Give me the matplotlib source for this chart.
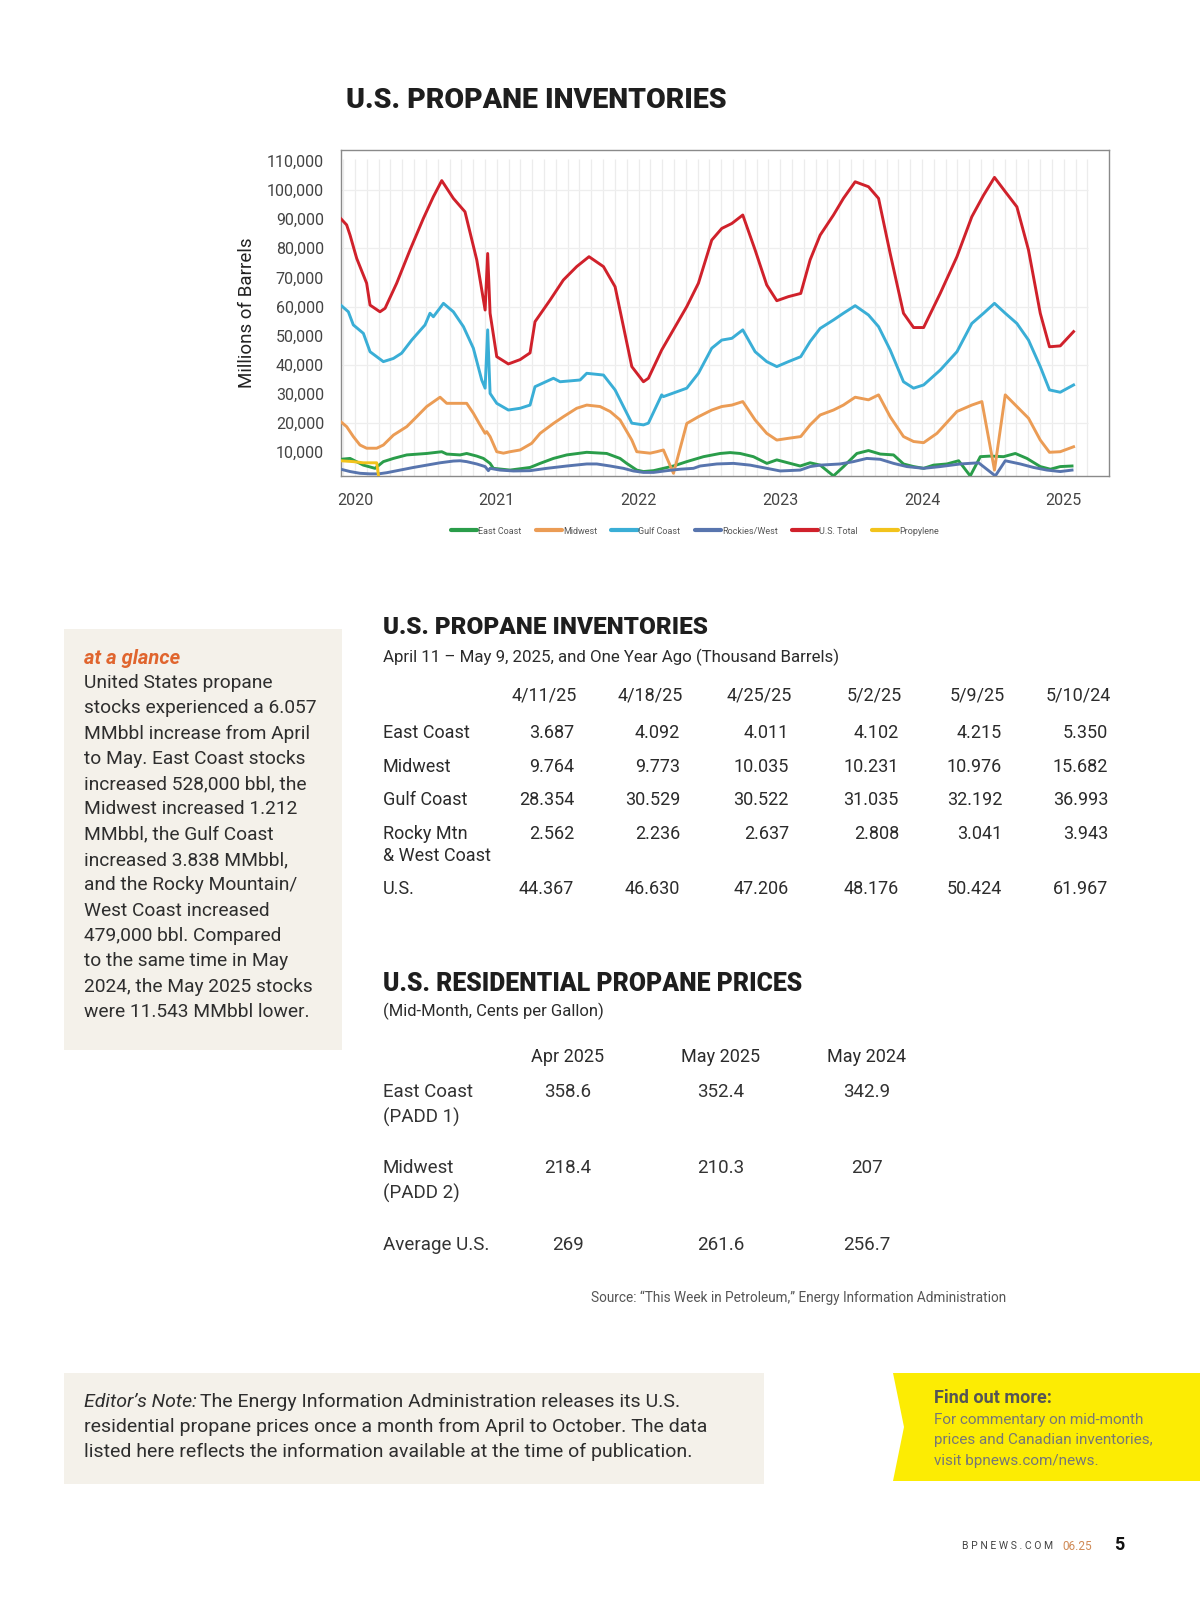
import numpy as np
import matplotlib
matplotlib.use("Agg")
import matplotlib.pyplot as plt
from matplotlib.patches import Rectangle, Polygon
from matplotlib.lines import Line2D

plt.rcParams['font.family'] = ['Roboto', 'DejaVu Sans']

# ---- chart data (decimal year, thousand-barrel units as on the axis) ----
east_coast = [(2019.899, 7600), (2019.965, 7900), (2020.059, 5600), (2020.141, 4500), (2020.200, 6800),
              (2020.271, 7900), (2020.365, 9100), (2020.506, 9600), (2020.612, 10200), (2020.647, 9400),
              (2020.741, 9100), (2020.788, 9600), (2020.859, 8700), (2020.906, 7900), (2020.953, 6200),
              (2020.976, 4500), (2021.094, 3900), (2021.235, 4800), (2021.306, 6200), (2021.400, 7900),
              (2021.494, 9100), (2021.635, 10000), (2021.776, 9600), (2021.870, 7900), (2021.917, 6200),
              (2021.988, 3900), (2022.035, 3400), (2022.106, 3700), (2022.247, 5300), (2022.341, 6800),
              (2022.459, 8500), (2022.576, 9600), (2022.647, 9900), (2022.717, 9600), (2022.811, 8500),
              (2022.906, 6200), (2022.976, 7400), (2023.070, 6200), (2023.141, 5300), (2023.211, 6400),
              (2023.282, 5600), (2023.376, 1900), (2023.447, 5100), (2023.541, 9600), (2023.623, 10600),
              (2023.706, 9400), (2023.800, 9100), (2023.870, 6000), (2023.941, 5100), (2024.012, 4500),
              (2024.082, 5600), (2024.176, 6000), (2024.259, 7100), (2024.341, 1900), (2024.412, 8500),
              (2024.482, 8700), (2024.576, 8500), (2024.659, 9600), (2024.741, 7900), (2024.835, 5100),
              (2024.906, 4200), (2024.976, 5100), (2025.059, 5300)]

midwest = [(2019.899, 20500), (2019.941, 18800), (2019.988, 15400), (2020.035, 12500), (2020.082, 11400),
           (2020.153, 11400), (2020.200, 12500), (2020.271, 15900), (2020.365, 18800), (2020.435, 22200),
           (2020.506, 25700), (2020.600, 28900), (2020.647, 26800), (2020.788, 26800), (2020.835, 23400),
           (2020.882, 19400), (2020.918, 16500), (2020.929, 17100), (2020.953, 15400), (2021.000, 10200),
           (2021.047, 9700), (2021.094, 10200), (2021.165, 10800), (2021.247, 13100), (2021.306, 16500),
           (2021.400, 19900), (2021.470, 22200), (2021.564, 25100), (2021.635, 26200), (2021.729, 25700),
           (2021.800, 24000), (2021.870, 21100), (2021.953, 14200), (2021.988, 10200), (2022.082, 9700),
           (2022.129, 10200), (2022.176, 10800), (2022.247, 2800), (2022.341, 19900), (2022.423, 22200),
           (2022.517, 24500), (2022.588, 25700), (2022.659, 26200), (2022.736, 27400), (2022.823, 21100),
           (2022.905, 16500), (2022.976, 14200), (2023.058, 14800), (2023.145, 15400), (2023.211, 19400),
           (2023.282, 22800), (2023.376, 24500), (2023.446, 26200), (2023.529, 28900), (2023.623, 28000),
           (2023.694, 29700), (2023.776, 22200), (2023.870, 15400), (2023.941, 13700), (2024.012, 13300),
           (2024.106, 16500), (2024.247, 24000), (2024.352, 26200), (2024.423, 27400), (2024.512, 3900),
           (2024.588, 29700), (2024.670, 25700), (2024.752, 21700), (2024.835, 14200), (2024.900, 10000),
           (2024.976, 10200), (2025.070, 11900)]

gulf_coast = [(2019.899, 60500), (2019.953, 58200), (2019.988, 53700), (2020.059, 50800), (2020.106, 44500),
              (2020.200, 41100), (2020.271, 42200), (2020.329, 44000), (2020.400, 48500), (2020.494, 53700),
              (2020.529, 57700), (2020.553, 56500), (2020.624, 61100), (2020.694, 58200), (2020.765, 53100),
              (2020.835, 45700), (2020.894, 34800), (2020.918, 32000), (2020.936, 52000), (2020.953, 30200),
              (2021.000, 26800), (2021.082, 24500), (2021.165, 25100), (2021.235, 26200), (2021.270, 32500),
              (2021.400, 35400), (2021.447, 34200), (2021.588, 34800), (2021.635, 37100), (2021.753, 36500),
              (2021.835, 31400), (2021.953, 20000), (2022.035, 19400), (2022.070, 20000), (2022.164, 29700),
              (2022.176, 29100), (2022.341, 32000), (2022.423, 37100), (2022.517, 45700), (2022.588, 48500),
              (2022.659, 49100), (2022.736, 52000), (2022.823, 44500), (2022.905, 41100), (2022.976, 39400),
              (2023.058, 41100), (2023.145, 42800), (2023.211, 48000), (2023.282, 52500), (2023.376, 55400),
              (2023.446, 57700), (2023.529, 60300), (2023.623, 57100), (2023.694, 53100), (2023.776, 45100),
              (2023.870, 34200), (2023.941, 32000), (2024.012, 33100), (2024.129, 38200), (2024.247, 44500),
              (2024.352, 54200), (2024.435, 57700), (2024.512, 61100), (2024.588, 57700), (2024.670, 54200),
              (2024.752, 48500), (2024.835, 39400), (2024.900, 31400), (2024.976, 30600), (2025.070, 33100)]

rockies_west = [(2019.899, 4200), (2019.965, 3400), (2020.035, 2800), (2020.106, 2600), (2020.165, 2600),
                (2020.224, 3000), (2020.318, 3900), (2020.412, 4800), (2020.506, 5600), (2020.600, 6400),
                (2020.694, 7000), (2020.741, 7100), (2020.788, 6800), (2020.859, 6000), (2020.918, 5100),
                (2020.941, 3700), (2020.953, 4500), (2021.023, 3900), (2021.117, 3600), (2021.235, 3700),
                (2021.353, 4500), (2021.494, 5300), (2021.635, 6000), (2021.706, 6000), (2021.800, 5300),
                (2021.894, 4500), (2021.964, 3600), (2022.035, 3100), (2022.106, 3100), (2022.200, 3700),
                (2022.294, 4200), (2022.388, 4500), (2022.435, 5300), (2022.553, 6000), (2022.670, 6200),
                (2022.788, 5600), (2022.906, 4500), (2023.000, 3600), (2023.141, 3900), (2023.211, 5100),
                (2023.282, 5600), (2023.423, 6000), (2023.517, 6800), (2023.611, 7900), (2023.706, 7600),
                (2023.800, 6200), (2023.894, 5100), (2024.012, 4500), (2024.129, 5100), (2024.271, 6000),
                (2024.400, 6400), (2024.518, 1900), (2024.588, 7100), (2024.694, 6000), (2024.788, 4800),
                (2024.882, 3900), (2024.976, 3400), (2025.059, 3900)]

us_total = [(2019.899, 90200), (2019.941, 88000), (2019.965, 84500), (2020.012, 76500), (2020.082, 68000),
            (2020.106, 60500), (2020.176, 58200), (2020.212, 59400), (2020.294, 68000), (2020.388, 79400),
            (2020.482, 90200), (2020.553, 97700), (2020.612, 103200), (2020.694, 97100), (2020.776, 92500),
            (2020.859, 76000), (2020.918, 58800), (2020.936, 78200), (2020.953, 57700), (2021.000, 42800),
            (2021.082, 40300), (2021.165, 41800), (2021.235, 44100), (2021.270, 54800), (2021.376, 62200),
            (2021.470, 69100), (2021.564, 73700), (2021.651, 77100), (2021.753, 73700), (2021.835, 66800),
            (2021.953, 39400), (2022.035, 34200), (2022.070, 35400), (2022.164, 45100), (2022.341, 60000),
            (2022.423, 68000), (2022.517, 82800), (2022.588, 86800), (2022.659, 88500), (2022.736, 91400),
            (2022.823, 79400), (2022.905, 67400), (2022.976, 62000), (2023.058, 63400), (2023.145, 64500),
            (2023.211, 76000), (2023.282, 84500), (2023.376, 91400), (2023.446, 97100), (2023.529, 102800),
            (2023.623, 101100), (2023.694, 97100), (2023.776, 78200), (2023.870, 57700), (2023.941, 52800),
            (2024.012, 52800), (2024.129, 64500), (2024.247, 77100), (2024.352, 90800), (2024.435, 98200),
            (2024.512, 104300), (2024.588, 99400), (2024.670, 94200), (2024.752, 79400), (2024.835, 57700),
            (2024.900, 46200), (2024.976, 46500), (2025.070, 51400)]

propylene = [(2019.899, 7100), (2019.988, 6800), (2020.059, 6400), (2020.153, 6400), (2020.165, 2200)]

series_names = ["East Coast", "Midwest", "Gulf Coast", "Rockies/West", "U.S. Total", "Propylene"]
series_data = [east_coast, midwest, gulf_coast, rockies_west, us_total, propylene]
series_colors = ["#2a9d4a", "#eb9c55", "#3aaed6", "#5875ae", "#d0212b", "#f2c31c"]

year_ticks = [2020, 2021, 2022, 2023, 2024, 2025]
value_ticks = [10000, 20000, 30000, 40000, 50000, 60000, 70000, 80000, 90000, 100000, 110000]

# ---- table data ----
inv_title = "U.S. PROPANE INVENTORIES"
inv_subtitle = "April 11 \u2013 May 9, 2025, and One Year Ago (Thousand Barrels)"
inv_dates = ["4/11/25", "4/18/25", "4/25/25", "5/2/25", "5/9/25", "5/10/24"]
inv_rows = ["East Coast", "Midwest", "Gulf Coast", "Rocky Mtn\n& West Coast", "U.S."]
inv_east = ["3.687", "4.092", "4.011", "4.102", "4.215", "5.350"]
inv_midwest = ["9.764", "9.773", "10.035", "10.231", "10.976", "15.682"]
inv_gulf = ["28.354", "30.529", "30.522", "31.035", "32.192", "36.993"]
inv_rocky = ["2.562", "2.236", "2.637", "2.808", "3.041", "3.943"]
inv_us = ["44.367", "46.630", "47.206", "48.176", "50.424", "61.967"]

price_title = "U.S. RESIDENTIAL PROPANE PRICES"
price_subtitle = "(Mid-Month, Cents per Gallon)"
price_months = ["Apr 2025", "May 2025", "May 2024"]
price_rows = ["East Coast\n(PADD 1)", "Midwest\n(PADD 2)", "Average U.S."]
price_east = ["358.6", "352.4", "342.9"]
price_midwest = ["218.4", "210.3", "207"]
price_avg = ["269", "261.6", "256.7"]

glance_lines = ["United States propane", "stocks experienced a 6.057", "MMbbl increase from April",
                "to May. East Coast stocks", "increased 528,000 bbl, the", "Midwest increased 1.212",
                "MMbbl, the Gulf Coast", "increased 3.838 MMbbl,", "and the Rocky Mountain/",
                "West Coast increased", "479,000 bbl. Compared", "to the same time in May",
                "2024, the May 2025 stocks", "were 11.543 MMbbl lower."]

W, H = 1200, 1598
fig = plt.figure(figsize=(W / 100, H / 100), dpi=100)
fig.patch.set_facecolor("white")


def fx(x):
    return x / W


def fy(y):
    return 1 - y / H


def txt(x, y, s, **kw):
    kw.setdefault("va", "center")
    kw.setdefault("color", "#2b2b2b")
    return fig.text(fx(x), fy(y), s, **kw)


# ---- main chart ----
fig.text(fx(346), fy(101), "U.S. PROPANE INVENTORIES", fontsize=20.5, fontweight="black",
         color="#1e1e1e", va="center", ha="left")

left, right, top, bottom = 340.7, 1109, 150, 476
ax = fig.add_axes([fx(left), fy(bottom), (right - left) / W, (bottom - top) / H])
xmin, xmax = 2019.899, 2025.32
ax.set_xlim(xmin, xmax)
ax.set_ylim(1870, 113700)

# light grid, monthly verticals, every 20k horizontals
grid_end = 2025.17
months = np.arange(2019.917, grid_end, 1 / 12)
ax.vlines(months, 1870, 110500, color="#ececec", lw=0.9, zorder=0)
ax.hlines([20000, 40000, 60000, 80000, 100000], xmin, grid_end, color="#eeeeee", lw=0.9, zorder=0)

for name, data, col in zip(series_names, series_data, series_colors):
    xs = [p[0] for p in data]
    ys = [p[1] for p in data]
    ax.plot(xs, ys, color=col, lw=2.1, solid_joinstyle="round", label=name, zorder=3)

ax.set_xticks(year_ticks)
ax.set_xticklabels([str(y) for y in year_ticks])
ax.set_yticks(value_ticks)
ax.set_yticklabels([f"{v:,}" for v in value_ticks])
ax.tick_params(length=0, labelsize=11.5, labelcolor="#444444")
ax.tick_params(axis="x", pad=12)
ax.tick_params(axis="y", pad=12)
for s in ax.spines.values():
    s.set_color("#8a8a8a")
    s.set_linewidth(1.0)
ax.set_ylabel("Millions of Barrels", fontsize=13.5, color="#222222", labelpad=8)

handles = [Line2D([0], [0], color=c, lw=3, solid_capstyle="round") for c in series_colors]
fig.legend(handles, series_names, loc="center", bbox_to_anchor=(fx(695), fy(531)), ncol=6,
           frameon=False, fontsize=6.5, handlelength=2.9, handletextpad=0.1, columnspacing=1.6,
           labelcolor="#555555")

# ---- at a glance sidebar ----
fig.patches.append(Rectangle((fx(64), fy(1050)), (342 - 64) / W, (1050 - 629) / H,
                             transform=fig.transFigure, facecolor="#f4f1ea", edgecolor="none"))
txt(84, 658, "at a glance", fontsize=14.5, fontweight="bold", fontstyle="italic", color="#e0652e")
for i, line in enumerate(glance_lines):
    txt(84, 683 + i * 25.3, line, fontsize=13.8, color="#2e2e2e")

# ---- inventory table ----
txt(383, 627, inv_title, fontsize=17.5, fontweight="black", color="#1e1e1e")
txt(383, 657, inv_subtitle, fontsize=12.2, color="#2b2b2b")
col_right = [574, 680, 789, 899, 1002, 1108]
for xr, d in zip(col_right, inv_dates):
    txt(xr + 3, 696, d, fontsize=13, ha="right")
row_y = [733, 767, 800, 834, 889]
row_vals = [inv_east, inv_midwest, inv_gulf, inv_rocky, inv_us]
for yy, lab, vals in zip(row_y, inv_rows, row_vals):
    for k, part in enumerate(lab.split("\n")):
        txt(383, yy + k * 22, part, fontsize=13)
    for xr, v in zip(col_right, vals):
        txt(xr, yy, v, fontsize=13, ha="right")

# ---- price table ----
txt(383, 984, price_title, fontsize=17.8, fontweight="black", color="#1e1e1e")
txt(383, 1011, price_subtitle, fontsize=12)
price_cols = [568, 721, 867]
for xc, m in zip(price_cols, price_months):
    txt(xc, 1057, m, fontsize=13, ha="center")
price_y = [1092, 1168, 1245]
price_vals = [price_east, price_midwest, price_avg]
for yy, lab, vals in zip(price_y, price_rows, price_vals):
    for k, part in enumerate(lab.split("\n")):
        txt(383, yy + k * 25, part, fontsize=13.5, color="#333333")
    for xc, v in zip(price_cols, vals):
        txt(xc, yy, v, fontsize=13.5, ha="center", color="#333333")

txt(591, 1298, "Source: \u201cThis Week in Petroleum,\u201d Energy Information Administration",
    fontsize=9.8, color="#555555")

# ---- editor's note ----
fig.patches.append(Rectangle((fx(64), fy(1484)), (764 - 64) / W, (1484 - 1373) / H,
                             transform=fig.transFigure, facecolor="#f4f1ea", edgecolor="none"))
renderer = fig.canvas.get_renderer()
t0 = txt(84, 1402, "Editor\u2019s Note:", fontsize=14, fontstyle="italic", color="#2e2e2e")
bb = t0.get_window_extent(renderer=renderer)
fig.text(bb.x1 / (fig.dpi * fig.get_figwidth()) + 0.003, fy(1402),
         "The Energy Information Administration releases its U.S.", fontsize=14,
         color="#2e2e2e", va="center")
txt(84, 1427, "residential propane prices once a month from April to October. The data",
    fontsize=14, color="#2e2e2e")
txt(84, 1452, "listed here reflects the information available at the time of publication.",
    fontsize=14, color="#2e2e2e")

# ---- find out more ----
pts = [(893, 1373), (1200, 1373), (1200, 1481), (893, 1481), (904, 1427)]
fig.patches.append(Polygon([(fx(a), fy(b)) for a, b in pts], closed=True,
                           transform=fig.transFigure, facecolor="#fcec03", edgecolor="none"))
txt(934, 1398, "Find out more:", fontsize=13, fontweight="bold", color="#555555")
txt(934, 1420, "For commentary on mid-month", fontsize=11, color="#777777")
txt(934, 1440, "prices and Canadian inventories,", fontsize=11, color="#777777")
txt(934, 1461, "visit bpnews.com/news.", fontsize=11, color="#777777")

# ---- footer ----
txt(1053, 1546, "B P N E W S . C O M", fontsize=7.5, color="#444444", ha="right")
txt(1062, 1546, "06.25", fontsize=8.5, color="#d08a55")
txt(1114, 1545, "5", fontsize=13, fontweight="bold", color="#111111")

fig.savefig("out.png", dpi=100)
